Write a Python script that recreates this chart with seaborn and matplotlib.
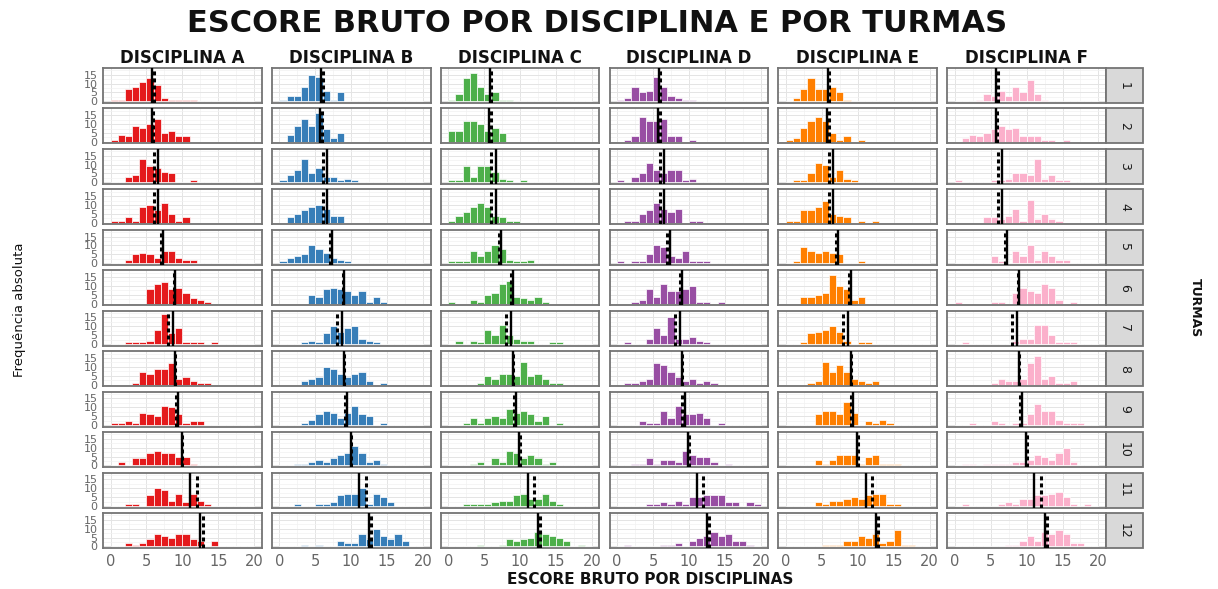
import numpy as np
import pandas as pd
import matplotlib
matplotlib.use("Agg")
import matplotlib.pyplot as plt
from matplotlib.patches import Rectangle
import seaborn as sns

# ---------------------------------------------------------------------------
# Data: frequency of raw scores per 1-point bin [k, k+1), k = 0..19,
# one list per class ("turma") for each subject ("disciplina").
# ---------------------------------------------------------------------------
disciplinas = ["DISCIPLINA A", "DISCIPLINA B", "DISCIPLINA C",
               "DISCIPLINA D", "DISCIPLINA E", "DISCIPLINA F"]
turmas = [str(t) for t in range(1, 13)]

freq_A = [
    [1, 1, 7, 8, 11, 13, 9, 2, 1, 1, 1, 1],
    [1, 4, 3, 9, 8, 10, 13, 5, 6, 3, 3],
    [0, 0, 3, 4, 13, 9, 8, 6, 5, 0, 0, 1],
    [1, 1, 3, 1, 9, 10, 7, 11, 5, 1, 3],
    [0, 0, 2, 5, 6, 5, 3, 7, 7, 3, 2, 2],
    [0, 0, 0, 0, 0, 8, 11, 12, 8, 9, 6, 3, 2, 1],
    [0, 0, 1, 1, 1, 2, 8, 17, 6, 9, 1, 1, 1, 0, 1],
    [0, 0, 0, 1, 7, 6, 9, 9, 12, 3, 4, 2, 1, 1],
    [1, 1, 2, 1, 7, 6, 5, 11, 10, 6, 1, 2, 2],
    [0, 2, 0, 4, 4, 7, 8, 7, 7, 5, 5, 1],
    [0, 0, 1, 1, 0, 6, 10, 9, 3, 7, 2, 7, 3, 1],
    [0, 0, 2, 1, 2, 4, 7, 6, 5, 7, 7, 4, 3, 0, 3],
]
freq_B = [
    [1, 3, 3, 8, 15, 14, 6, 1, 5],
    [0, 4, 9, 13, 9, 16, 7, 2, 5],
    [1, 4, 7, 13, 5, 8, 3, 3, 1, 2, 1],
    [0, 3, 5, 7, 9, 10, 8, 4, 4],
    [1, 3, 4, 5, 10, 8, 6, 3, 2, 1],
    [0, 0, 0, 0, 5, 4, 8, 9, 8, 7, 5, 7, 1, 4, 1],
    [0, 0, 0, 1, 2, 1, 6, 10, 7, 9, 10, 3, 2, 1],
    [0, 0, 0, 2, 3, 4, 10, 9, 6, 4, 6, 7, 2, 0, 1],
    [0, 0, 0, 1, 3, 6, 8, 7, 4, 7, 11, 6, 5, 0, 1],
    [0, 0, 1, 1, 2, 3, 2, 4, 6, 7, 11, 7, 2, 3, 1],
    [0, 0, 1, 0, 0, 1, 1, 2, 6, 7, 7, 10, 1, 7, 5, 2],
    [0, 0, 0, 1, 0, 1, 0, 0, 3, 2, 2, 7, 4, 10, 6, 4, 7, 3],
]
freq_C = [
    [1, 4, 13, 16, 8, 4, 5, 1, 1],
    [6, 6, 12, 12, 10, 6, 8, 5],
    [1, 1, 9, 3, 9, 9, 6, 2, 1, 0, 1],
    [1, 4, 6, 9, 11, 9, 4, 3, 1, 1],
    [1, 1, 1, 7, 4, 7, 10, 8, 2, 1, 1, 2],
    [1, 0, 0, 2, 1, 5, 6, 11, 13, 4, 3, 2, 4, 1],
    [0, 2, 0, 2, 1, 8, 5, 11, 5, 3, 2, 2, 0, 0, 1, 1],
    [0, 0, 0, 0, 1, 5, 3, 6, 6, 5, 13, 5, 6, 3, 1, 1],
    [0, 0, 1, 4, 1, 4, 5, 4, 9, 7, 8, 6, 2, 5, 0, 1],
    [0, 0, 0, 1, 2, 0, 4, 2, 8, 7, 4, 6, 4, 1, 2],
    [0, 0, 1, 1, 1, 1, 2, 3, 3, 6, 7, 4, 4, 7, 3, 1],
    [0, 0, 0, 0, 1, 0, 0, 1, 4, 3, 4, 5, 8, 7, 6, 5, 3, 0, 1],
]
freq_D = [
    [1, 2, 8, 5, 6, 14, 8, 3, 2, 1, 1],
    [0, 1, 3, 14, 12, 12, 13, 3, 3, 0, 1],
    [1, 0, 3, 5, 11, 7, 5, 7, 7, 1, 2],
    [0, 1, 1, 5, 7, 11, 8, 6, 8, 0, 1, 1],
    [1, 0, 1, 1, 5, 10, 9, 4, 3, 7, 1, 1, 1],
    [0, 0, 1, 2, 8, 4, 11, 7, 7, 8, 10, 1, 1, 0, 1],
    [0, 1, 0, 0, 3, 9, 5, 15, 3, 3, 4, 2, 1],
    [0, 1, 1, 2, 3, 12, 11, 7, 4, 2, 3, 1, 2, 1],
    [0, 0, 0, 2, 1, 1, 8, 4, 11, 6, 6, 7, 4, 0, 1],
    [0, 0, 1, 1, 4, 1, 3, 3, 2, 8, 6, 5, 5, 2, 0, 1],
    [0, 0, 0, 0, 1, 1, 2, 1, 3, 1, 5, 5, 6, 6, 6, 2, 2, 0, 2, 1],
    [0, 1, 0, 0, 0, 0, 1, 1, 2, 0, 3, 5, 6, 8, 6, 7, 3, 3, 1],
]
freq_E = [
    [0, 2, 7, 13, 7, 7, 8, 5, 1],
    [1, 2, 8, 12, 14, 12, 5, 1, 3, 0, 1],
    [0, 1, 1, 5, 11, 10, 3, 7, 2, 1],
    [1, 1, 7, 7, 9, 12, 5, 4, 3, 0, 1, 0, 1],
    [0, 1, 9, 7, 6, 7, 6, 5, 0, 0, 1],
    [0, 0, 4, 4, 5, 6, 16, 10, 8, 2, 4],
    [0, 0, 1, 6, 7, 8, 10, 7, 2, 0, 1, 1],
    [0, 0, 0, 1, 2, 13, 7, 11, 7, 3, 2, 1, 2],
    [0, 0, 0, 0, 6, 8, 8, 6, 13, 7, 0, 2, 1, 3, 1],
    [0, 0, 0, 0, 3, 1, 3, 6, 6, 6, 1, 5, 6, 1, 1, 1],
    [0, 0, 0, 0, 2, 1, 3, 3, 4, 5, 4, 6, 7, 7, 1, 1],
    [0, 0, 0, 0, 0, 1, 1, 1, 3, 3, 6, 5, 7, 2, 3, 9, 1, 1],
]
freq_F = [
    [0, 0, 0, 1, 4, 3, 6, 3, 8, 5, 12, 4, 1],
    [0, 2, 4, 3, 5, 7, 9, 7, 8, 3, 3, 3, 1, 1, 0, 1],
    [1, 0, 0, 0, 0, 1, 1, 2, 5, 5, 4, 13, 2, 4, 1, 1],
    [0, 0, 0, 0, 3, 3, 2, 4, 8, 1, 13, 2, 5, 2, 1],
    [0, 0, 0, 0, 0, 4, 1, 0, 7, 4, 10, 2, 7, 4, 2, 2],
    [1, 0, 0, 0, 0, 1, 1, 0, 6, 9, 7, 6, 11, 9, 2, 0, 1],
    [0, 1, 0, 0, 0, 0, 0, 0, 2, 3, 3, 11, 11, 5, 1, 1, 1],
    [0, 0, 0, 0, 0, 1, 3, 2, 2, 3, 12, 16, 3, 5, 1, 1, 2],
    [0, 0, 1, 0, 0, 2, 1, 0, 1, 1, 6, 12, 8, 8, 3, 1, 1, 1],
    [0, 1, 1, 0, 1, 1, 1, 1, 2, 2, 3, 6, 5, 3, 7, 10, 2],
    [0, 1, 0, 0, 0, 0, 1, 2, 1, 4, 4, 6, 6, 7, 8, 5, 1, 0, 1],
    [0, 0, 0, 0, 0, 0, 0, 1, 1, 3, 6, 3, 8, 7, 9, 7, 2, 2],
]

# class-level mean (solid line) and median (dashed line) of the raw score
turma_media = [5.8, 5.7, 6.6, 6.6, 7.3, 9.0, 8.7, 9.0, 9.4, 9.9, 11.1, 12.5]
turma_mediana = [6.0, 5.95, 6.0, 6.0, 7.0, 8.8, 8.0, 9.0, 9.1, 10.0, 12.0, 12.8]

cores = ["#E41A1C", "#377EB8", "#4DAF4A", "#984EA3", "#FF7F00", "#FBB0CB"]

# ---------------------------------------------------------------------------
# Long table: one row per (disciplina, turma, bin) with its frequency
# ---------------------------------------------------------------------------
tabelas = [freq_A, freq_B, freq_C, freq_D, freq_E, freq_F]
registros = []
for disc, tabela in zip(disciplinas, tabelas):
    for turma, contagens in zip(turmas, tabela):
        for k, n in enumerate(contagens):
            if n > 0:
                registros.append((disc, turma, k + 0.5, n))
df = pd.DataFrame(registros, columns=["disciplina", "turma", "nota", "freq"])

# ---------------------------------------------------------------------------
# Figure
# ---------------------------------------------------------------------------
sns.set_style("white")
plt.rcParams["font.family"] = ["DejaVu Sans"]

W, H = 1218, 589
fig, axes = plt.subplots(12, 6, figsize=(W / 100, H / 100), dpi=100,
                         sharex=True, sharey=True)
fig.subplots_adjust(left=103 / W, right=1106 / W, top=1 - 68 / H,
                    bottom=1 - 548 / H, wspace=0.063, hspace=0.158)

for i, turma in enumerate(turmas):
    for j, disc in enumerate(disciplinas):
        ax = axes[i, j]
        sub = df[(df.disciplina == disc) & (df.turma == turma)]
        sns.histplot(data=sub, x="nota", weights="freq", binwidth=1,
                     binrange=(0, 20), color=cores[j], edgecolor="white",
                     linewidth=0.5, alpha=1, ax=ax)
        ax.axvline(turma_media[i], color="black", lw=1.7, zorder=5)
        ax.axvline(turma_mediana[i], color="black", lw=2.2,
                   linestyle=(0, (1.3, 1.0)), zorder=5)

        ax.set_xlim(-1.05, 21.05)
        ax.set_ylim(-0.9, 18.8)
        ax.set_xticks([0, 5, 10, 15, 20])
        ax.set_xticks(np.arange(2.5, 20, 5), minor=True)
        ax.set_yticks([0, 5, 10, 15])
        ax.set_yticks(np.arange(2.5, 20, 5), minor=True)
        ax.set_facecolor("white")
        ax.grid(which="major", color="#E4E4E4", lw=0.7)
        ax.grid(which="minor", color="#F2F2F2", lw=0.5)
        ax.set_axisbelow(True)
        for s in ax.spines.values():
            s.set_visible(True)
            s.set_color("#747474")
            s.set_linewidth(1.3)
        ax.set_xlabel("")
        ax.set_ylabel("")
        ax.tick_params(which="minor", length=0)
        ax.tick_params(which="major", colors="#333333", labelcolor="#666666",
                       length=2.5, width=0.6)
        ax.tick_params(axis="y", labelsize=8, pad=1.5)
        ax.tick_params(axis="x", labelsize=10.5, pad=1.5)
        if j != 0:
            ax.tick_params(axis="y", length=0)
        if i != len(turmas) - 1:
            ax.tick_params(axis="x", length=0)

# column headers
for j, disc in enumerate(disciplinas):
    axes[0, j].text(0.5, 1 + 10 / 34.9, disc, transform=axes[0, j].transAxes,
                    ha="center", va="center", fontsize=12, fontweight="bold",
                    color="#111111")

# row strips on the right
strip_w = 37 / 158.8
for i, turma in enumerate(turmas):
    ax = axes[i, -1]
    ax.add_patch(Rectangle((1.0, 0.0), strip_w, 1.0, transform=ax.transAxes,
                           clip_on=False, facecolor="#D9D9D9",
                           edgecolor="#747474", lw=1.3, zorder=3))
    ax.text(1 + strip_w / 2, 0.5, turma, transform=ax.transAxes,
            rotation=-90, ha="center", va="center", fontsize=9,
            color="#1A1A1A", zorder=4)

fig.text(597 / W, 1 - 23 / H, "ESCORE BRUTO POR DISCIPLINA E POR TURMAS",
         ha="center", va="center", fontsize=22, fontweight="bold",
         color="#111111")
fig.text(650 / W, 1 - 580 / H, "ESCORE BRUTO POR DISCIPLINAS",
         ha="center", va="center", fontsize=11, fontweight="bold",
         color="#111111")
fig.text(20 / W, 1 - 310 / H, "Frequência absoluta", rotation=90,
         ha="center", va="center", fontsize=9.5,
         family=["Liberation Sans Narrow", "DejaVu Sans"], color="#111111")
fig.text(1195 / W, 1 - 308 / H, "TURMAS", rotation=-90,
         ha="center", va="center", fontsize=9, fontweight="bold",
         family=["Liberation Sans Narrow", "DejaVu Sans"], color="#111111")

fig.savefig("out.png", dpi=100, facecolor="white")
